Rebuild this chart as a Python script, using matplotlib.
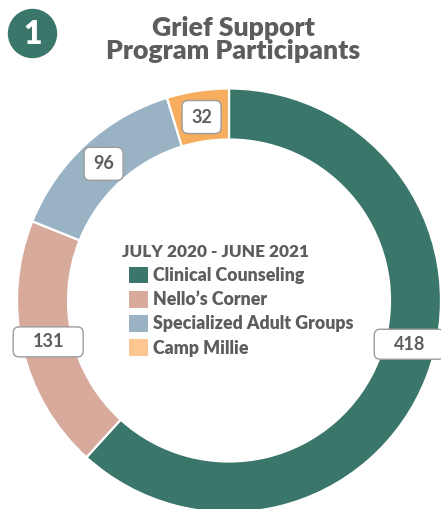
import numpy as np
import matplotlib
matplotlib.use("Agg")
import matplotlib.pyplot as plt
from matplotlib.patches import Patch, Circle, FancyBboxPatch

W, H = 441, 509

programs = ["Clinical Counseling", "Nello\u2019s Corner", "Specialized Adult Groups", "Camp Millie"]
participants = [418, 131, 96, 32]
period = "JULY 2020 - JUNE 2021"
title = "Grief Support\nProgram Participants"

RING = ["#3b766a", "#d7aa9b", "#99b2c4", "#f6ad5e"]
SWATCH = ["#3b766a", "#d7aa9b", "#99b2c4", "#fdc590"]
GREY = "#5d5d5d"
FONT = "Lato"

plt.rcParams["font.family"] = [FONT, "DejaVu Sans"]

fig = plt.figure(figsize=(W / 100, H / 100), dpi=100)
ax = fig.add_axes([0, 0, 1, 1])

cx, cy = 229, H - 300.5      # donut centre, pixel coords (y up)
R, ring_w = 212, 51

wedges, _ = ax.pie(participants, colors=RING, startangle=90, counterclock=False,
                   radius=R, center=(cx, cy), frame=True,
                   wedgeprops=dict(width=ring_w, edgecolor="white", linewidth=1.6))
ax.set_xlim(0, W); ax.set_ylim(0, H)
ax.set_aspect("equal"); ax.axis("off")

# value boxes sit on the ring at each wedge's mid angle (green one nudged up a bit)
nudge = [7.5, 0, 0, 0]
r_lab = R - ring_w / 2 - 1
for w, v, dn in zip(wedges, participants, nudge):
    a = np.deg2rad((w.theta1 + w.theta2) / 2 + dn)
    x, y = cx + r_lab * np.cos(a), cy + r_lab * np.sin(a)
    bw, bh = (70, 30) if v >= 100 else (39, 33)
    ax.add_patch(FancyBboxPatch((x - bw / 2, y - bh / 2), bw, bh,
                                boxstyle="round,pad=0,rounding_size=6",
                                fc="white", ec="#9c9c9c", lw=1.0, zorder=3))
    ax.text(x, y, str(v), ha="center", va="center", fontsize=13,
            fontweight="bold", color=GREY, zorder=4)

# legend in the hole, its heading sits a little left of the swatches
ax.text(122, H - 252, period, ha="left", va="center", fontsize=12.4,
        fontweight="heavy", color=GREY)
handles = [Patch(facecolor=c, edgecolor="none") for c in SWATCH]
leg = ax.legend(handles, programs, loc="upper left",
                bbox_to_anchor=(129 / W, 1 - 267 / H), frameon=False,
                prop=dict(family=FONT, weight="heavy", size=12.8),
                handlelength=1.05, handleheight=1.05, handletextpad=0.3,
                labelspacing=0.38, borderpad=0, borderaxespad=0)
for t in leg.get_texts():
    t.set_color(GREY)

# title and numbered badge
fig.text(233 / W, 1 - 16 / H, title, ha="center", va="top", fontsize=19.2,
         fontweight="heavy", color=GREY, linespacing=0.96)
ax.add_patch(Circle((32.5, H - 33.5), 24, color="#3b766a", zorder=5))
ax.text(32.5, H - 34, "1", ha="center", va="center", fontsize=23,
        fontweight="heavy", color="white", zorder=6)

fig.savefig("out.png", dpi=100)
